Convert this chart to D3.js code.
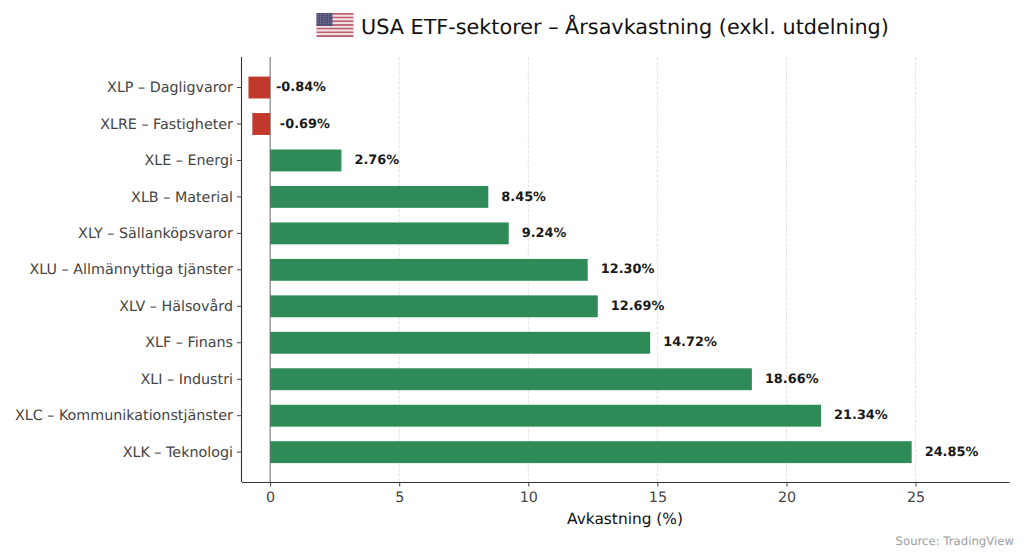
<!DOCTYPE html>
<html>
<head>
    <meta charset="utf-8">
    <script src="https://cdn.jsdelivr.net/npm/d3@7"></script>
    <style>
        html, body { margin: 0; padding: 0; background: #fff; }
        text { font-family: "DejaVu Sans", sans-serif; text-rendering: geometricPrecision; }
    </style>
</head>
<body>
    <script>
        var categories = [
            'XLP – Dagligvaror', 'XLRE – Fastigheter', 'XLE – Energi', 'XLB – Material',
            'XLY – Sällanköpsvaror', 'XLU – Allmännyttiga tjänster', 'XLV – Hälsovård',
            'XLF – Finans', 'XLI – Industri', 'XLC – Kommunikationstjänster', 'XLK – Teknologi'
        ];
        var returns = [-0.84, -0.69, 2.76, 8.45, 9.24, 12.30, 12.69, 14.72, 18.66, 21.34, 24.85];
        var xTicks = [0, 5, 10, 15, 20, 25];

        var w = 1024, h = 559;
        var left = 241.5, right = 1009, top_ = 57, bottom = 482;

        var svg = d3.select('body').append('svg')
            .attr('width', w)
            .attr('height', h)
            .style('display', 'block');

        var x = d3.scaleLinear().domain([-1.11, 28.62]).range([left, right]);
        var y = d3.scaleBand().domain(categories).range([76.6, 463.1]).paddingInner(0.4).paddingOuter(0);

        // grid
        svg.selectAll('.grid').data(xTicks.slice(1)).enter().append('line')
            .attr('x1', d => x(d)).attr('x2', d => x(d))
            .attr('y1', top_).attr('y2', bottom)
            .attr('stroke', '#b0b0b0').attr('stroke-opacity', 0.4)
            .attr('stroke-width', 0.9).attr('stroke-dasharray', '3.4,1.5');

        // bars
        svg.selectAll('.bar').data(returns).enter().append('rect')
            .attr('x', d => x(Math.min(0, d)))
            .attr('y', (d, i) => y(categories[i]))
            .attr('width', d => Math.abs(x(d) - x(0)))
            .attr('height', y.bandwidth())
            .attr('fill', d => d < 0 ? '#c0392b' : '#2e8b57');

        // zero line
        svg.append('line')
            .attr('x1', x(0)).attr('x2', x(0))
            .attr('y1', top_).attr('y2', bottom)
            .attr('stroke', '#666').attr('stroke-width', 1);

        // value labels
        svg.selectAll('.val').data(returns).enter().append('text')
            .attr('x', d => x(d) + (d < 0 ? 27.5 : 13))
            .attr('y', (d, i) => y(categories[i]) + y.bandwidth() / 2 - 1)
            .attr('dy', '0.36em')
            .attr('font-size', 12.9)
            .attr('font-weight', 'bold')
            .attr('fill', '#1a1a1a')
            .text(d => d.toFixed(2) + '%');

        // axes
        var xAxis = svg.append('g')
            .attr('transform', 'translate(0,' + bottom + ')')
            .call(d3.axisBottom(x).tickValues(xTicks).tickSize(4.5).tickSizeOuter(0).tickPadding(5.5).tickFormat(d3.format('d')));
        var yAxis = svg.append('g')
            .attr('transform', 'translate(' + left + ',0)')
            .call(d3.axisLeft(y).tickSize(4.5).tickSizeOuter(0).tickPadding(4));

        // left spine runs the full plot height, past the outer bands
        yAxis.select('.domain').attr('d', 'M0,' + top_ + 'V' + bottom);

        [xAxis, yAxis].forEach(function (a) {
            a.select('.domain').attr('stroke', '#333').attr('stroke-width', 1.1);
            a.selectAll('.tick line').attr('stroke', '#444').attr('stroke-width', 1);
            a.selectAll('.tick text').attr('fill', '#444').attr('font-size', 14.3)
                .style('font-family', '"DejaVu Sans", sans-serif');
        });

        svg.append('text')
            .attr('x', 625).attr('y', 524)
            .attr('text-anchor', 'middle')
            .attr('font-size', 15.4)
            .attr('fill', '#111')
            .text('Avkastning (%)');

        svg.append('text')
            .attr('x', 361).attr('y', 34)
            .attr('font-size', 20.75)
            .attr('fill', '#111')
            .text('USA ETF-sektorer – Årsavkastning (exkl. utdelning)');

        svg.append('text')
            .attr('x', 1014).attr('y', 545)
            .attr('text-anchor', 'end')
            .attr('font-size', 11.7)
            .attr('fill', '#a0a0a0')
            .text('Source: TradingView');

        // flag
        var flag = svg.append('g').attr('transform', 'translate(316.5,13)');
        var stripes = d3.range(13);
        var fy = d3.scaleBand().domain(stripes).range([0, 24]);
        flag.selectAll('rect').data(stripes).enter().append('rect')
            .attr('x', 0).attr('width', 37)
            .attr('y', d => fy(d)).attr('height', fy.bandwidth())
            .attr('fill', d => d % 2 ? '#f0e0e3' : '#bd5f6d');
        flag.append('rect').attr('width', 16).attr('height', 12.9).attr('fill', '#515178');
        var sx = d3.range(1.5, 16, 2.6), sy = d3.range(1.5, 12.5, 2.2);
        sy.forEach(function (b) {
            flag.selectAll(null).data(sx).enter().append('circle')
                .attr('cx', d => d).attr('cy', b).attr('r', 0.45)
                .attr('fill', '#b4b4c8');
        });
    </script>
</body>
</html>
